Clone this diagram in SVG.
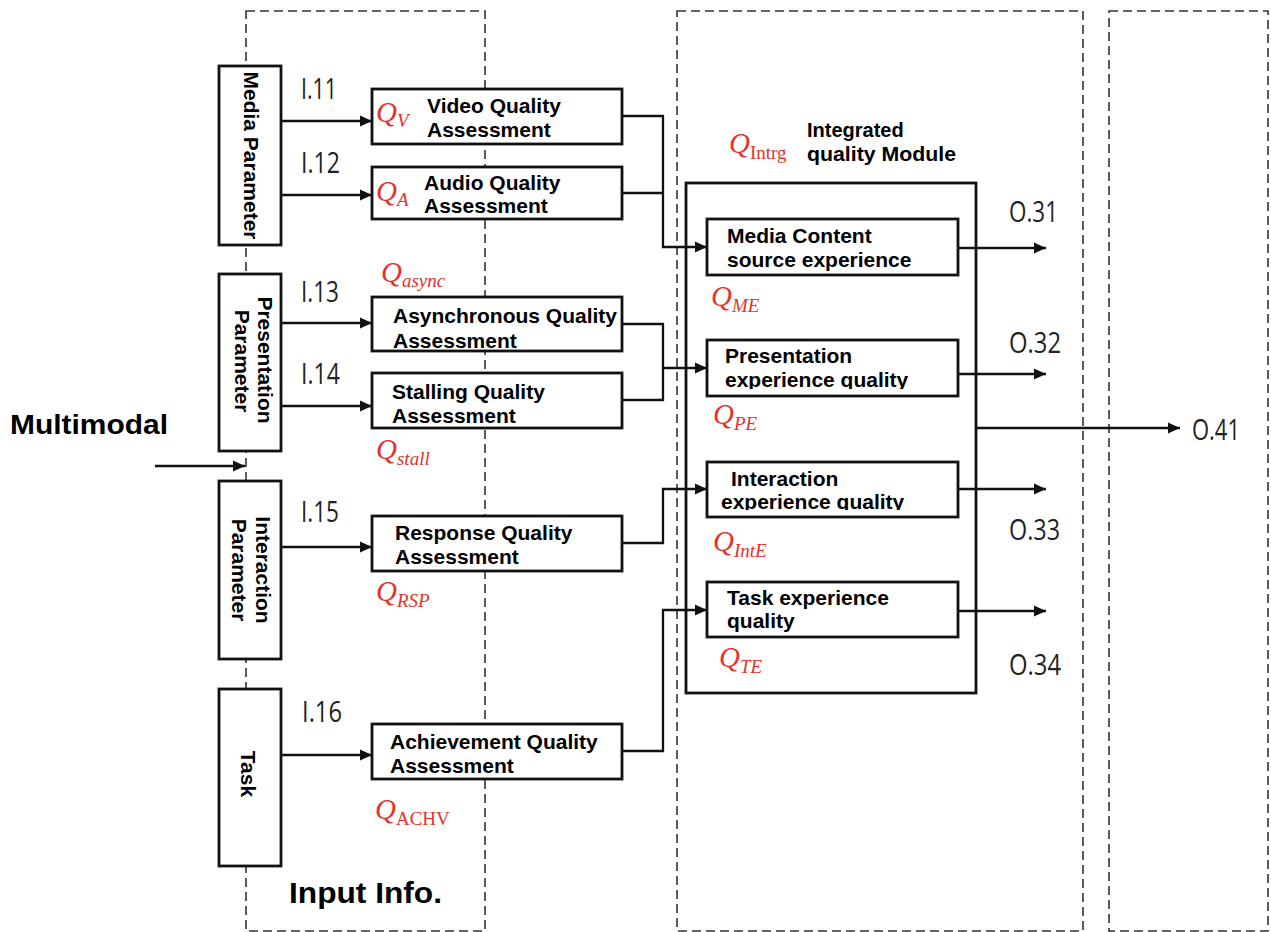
<svg xmlns="http://www.w3.org/2000/svg" width="1271" height="932" viewBox="0 0 1271 932">
  <defs>
    <style>
      .frame { fill: none; stroke: #333; stroke-width: 1.6; stroke-dasharray: 9 5; }
      .box { fill: #fff; stroke: #111; stroke-width: 2.8; }
      .conn { fill: none; stroke: #111; stroke-width: 2.3; }
      .arr { marker-end: url(#head); }
      .lbl { font-family: "Liberation Sans", Arial, sans-serif; font-weight: bold; font-size: 21px; fill: #000; }
      .io { font-family: "Open Sans", "Noto Sans", sans-serif; font-weight: 400; font-size: 30px; fill: #222; }
      .q { font-family: "Liberation Serif", serif; font-style: italic; font-size: 29px; fill: #e5322a; }
      .sub { font-size: 19px; }
      .up { font-style: normal; }
    </style>
    <marker id="head" markerUnits="userSpaceOnUse" markerWidth="13" markerHeight="12" refX="12" refY="6" orient="auto">
      <path d="M0,0.5 L12,6 L0,11.5 z" fill="#111"/>
    </marker>
    <!-- lower lines of two inner boxes are cut short above the border -->
    <clipPath id="cutPE"><rect x="700" y="330" width="260" height="59"/></clipPath>
    <clipPath id="cutIE"><rect x="700" y="450" width="260" height="60"/></clipPath>
  </defs>

  <rect width="1271" height="932" fill="#fff"/>

  <!-- dashed section frames -->
  <g id="frames">
    <rect class="frame" x="246" y="11" width="239" height="920"/>
    <rect class="frame" x="677" y="11" width="406" height="920"/>
    <rect class="frame" x="1109" y="11" width="159" height="920"/>
  </g>

  <text class="lbl" x="10" y="434" style="font-size:27px" textLength="158" lengthAdjust="spacingAndGlyphs">Multimodal</text>
  <text class="lbl" x="289" y="903" style="font-size:30px" textLength="153" lengthAdjust="spacingAndGlyphs">Input Info.</text>

  <!-- parameter columns -->
  <g id="media-param">
    <rect class="box" x="219" y="66" width="62" height="179"/>
    <text class="lbl" text-anchor="middle" transform="translate(244,155.5) rotate(90)">Media Parameter</text>
  </g>
  <g id="presentation-param">
    <rect class="box" x="219" y="274" width="62" height="177"/>
    <text class="lbl" text-anchor="middle" transform="translate(258,360) rotate(90)">Presentation</text>
    <text class="lbl" text-anchor="middle" transform="translate(235,361) rotate(90)">Parameter</text>
  </g>
  <g id="interaction-param">
    <rect class="box" x="219" y="481" width="62" height="178"/>
    <text class="lbl" text-anchor="middle" transform="translate(256,570) rotate(90)">Interaction</text>
    <text class="lbl" text-anchor="middle" transform="translate(232,570) rotate(90)">Parameter</text>
  </g>
  <g id="task-param">
    <rect class="box" x="219" y="689" width="62" height="177"/>
    <text class="lbl" text-anchor="middle" transform="translate(241,774) rotate(90)">Task</text>
  </g>

  <!-- assessment modules -->
  <g id="video-qa">
    <rect class="box" x="372" y="89" width="250" height="55"/>
    <text class="lbl" x="427" y="113">Video Quality</text>
    <text class="lbl" x="427" y="137">Assessment</text>
  </g>
  <g id="audio-qa">
    <rect class="box" x="372" y="167" width="250" height="52"/>
    <text class="lbl" x="424" y="190">Audio Quality</text>
    <text class="lbl" x="424" y="213">Assessment</text>
  </g>
  <g id="async-qa">
    <rect class="box" x="372" y="297" width="250" height="54"/>
    <text class="lbl" x="393" y="323">Asynchronous Quality</text>
    <text class="lbl" x="393" y="348">Assessment</text>
  </g>
  <g id="stall-qa">
    <rect class="box" x="372" y="373" width="250" height="55"/>
    <text class="lbl" x="392" y="399">Stalling Quality</text>
    <text class="lbl" x="392" y="423">Assessment</text>
  </g>
  <g id="response-qa">
    <rect class="box" x="372" y="516" width="250" height="55"/>
    <text class="lbl" x="395" y="540">Response Quality</text>
    <text class="lbl" x="395" y="564">Assessment</text>
  </g>
  <g id="achv-qa">
    <rect class="box" x="372" y="724" width="250" height="55"/>
    <text class="lbl" x="390" y="749">Achievement Quality</text>
    <text class="lbl" x="390" y="773">Assessment</text>
  </g>

  <!-- integrated module -->
  <g id="integrated">
    <rect class="box" x="686" y="183" width="290" height="510"/>
    <text class="lbl" x="807" y="137" style="font-size:20px">Integrated</text>
    <text class="lbl" x="807" y="161" style="font-size:20px" textLength="149" lengthAdjust="spacingAndGlyphs">quality Module</text>
  </g>
  <g id="media-exp">
    <rect class="box" x="707" y="219" width="251" height="56"/>
    <text class="lbl" x="727" y="243">Media Content</text>
    <text class="lbl" x="727" y="267">source experience</text>
  </g>
  <g id="presentation-exp">
    <rect class="box" x="707" y="340" width="251" height="56"/>
    <text class="lbl" x="725" y="363">Presentation</text>
    <text class="lbl" x="725" y="387" clip-path="url(#cutPE)">experience quality</text>
  </g>
  <g id="interaction-exp">
    <rect class="box" x="707" y="462" width="251" height="55"/>
    <text class="lbl" x="731" y="486">Interaction</text>
    <text class="lbl" x="721" y="509" clip-path="url(#cutIE)">experience quality</text>
  </g>
  <g id="task-exp">
    <rect class="box" x="707" y="582" width="251" height="55"/>
    <text class="lbl" x="727" y="605">Task experience</text>
    <text class="lbl" x="727" y="628">quality</text>
  </g>

  <!-- connectors -->
  <g id="connectors">
    <line class="conn arr" x1="155" y1="466" x2="245" y2="466"/>
    <line class="conn arr" x1="281" y1="121" x2="372" y2="121"/>
    <line class="conn arr" x1="281" y1="195" x2="372" y2="195"/>
    <line class="conn arr" x1="281" y1="323" x2="372" y2="323"/>
    <line class="conn arr" x1="281" y1="406" x2="372" y2="406"/>
    <line class="conn arr" x1="281" y1="547" x2="372" y2="547"/>
    <line class="conn arr" x1="281" y1="755" x2="372" y2="755"/>

    <polyline class="conn arr" points="622,116 663,116 663,247 707,247"/>
    <line class="conn" x1="622" y1="193" x2="663" y2="193"/>
    <polyline class="conn" points="622,324 663,324 663,400 622,400"/>
    <line class="conn arr" x1="663" y1="368" x2="707" y2="368"/>
    <polyline class="conn arr" points="622,543 663,543 663,489 707,489"/>
    <polyline class="conn arr" points="622,751 663,751 663,610 707,610"/>

    <line class="conn arr" x1="958" y1="248" x2="1046" y2="248"/>
    <line class="conn arr" x1="958" y1="374" x2="1046" y2="374"/>
    <line class="conn arr" x1="958" y1="489" x2="1046" y2="489"/>
    <line class="conn arr" x1="958" y1="611" x2="1046" y2="611"/>
    <line class="conn arr" x1="976" y1="428" x2="1180" y2="428"/>
  </g>

  <!-- input / output tags -->
  <g id="io-tags">
    <text class="io" x="301" y="99" textLength="36" lengthAdjust="spacingAndGlyphs">I.11</text>
    <text class="io" x="301" y="173" textLength="39" lengthAdjust="spacingAndGlyphs">I.12</text>
    <text class="io" x="301" y="302" textLength="38" lengthAdjust="spacingAndGlyphs">I.13</text>
    <text class="io" x="301" y="384" textLength="39" lengthAdjust="spacingAndGlyphs">I.14</text>
    <text class="io" x="301" y="522" textLength="38" lengthAdjust="spacingAndGlyphs">I.15</text>
    <text class="io" x="302" y="722" textLength="40" lengthAdjust="spacingAndGlyphs">I.16</text>
    <text class="io" x="1009" y="222" textLength="49" lengthAdjust="spacingAndGlyphs">O.31</text>
    <text class="io" x="1009" y="353" textLength="52" lengthAdjust="spacingAndGlyphs">O.32</text>
    <text class="io" x="1009" y="540" textLength="51" lengthAdjust="spacingAndGlyphs">O.33</text>
    <text class="io" x="1009" y="675" textLength="52" lengthAdjust="spacingAndGlyphs">O.34</text>
    <text class="io" x="1192" y="440" textLength="48" lengthAdjust="spacingAndGlyphs">O.41</text>
  </g>

  <!-- quality symbols -->
  <g id="symbols">
    <text class="q" x="376" y="122">Q<tspan class="sub" dy="5">V</tspan></text>
    <text class="q" x="376" y="201">Q<tspan class="sub" dy="5">A</tspan></text>
    <text class="q" x="381" y="282">Q<tspan class="sub" dy="5">async</tspan></text>
    <text class="q" x="376" y="459">Q<tspan class="sub" dy="6">stall</tspan></text>
    <text class="q" x="376" y="601">Q<tspan class="sub" dy="6">RSP</tspan></text>
    <text class="q" x="375" y="819">Q<tspan class="sub up" dy="6">ACHV</tspan></text>
    <text class="q" x="729" y="153">Q<tspan class="sub up" dy="6">Intrg</tspan></text>
    <text class="q" x="711" y="306">Q<tspan class="sub" dy="6">ME</tspan></text>
    <text class="q" x="713" y="424">Q<tspan class="sub" dy="6">PE</tspan></text>
    <text class="q" x="713" y="551">Q<tspan class="sub" dy="6">IntE</tspan></text>
    <text class="q" x="719" y="667">Q<tspan class="sub" dy="6">TE</tspan></text>
  </g>
</svg>
